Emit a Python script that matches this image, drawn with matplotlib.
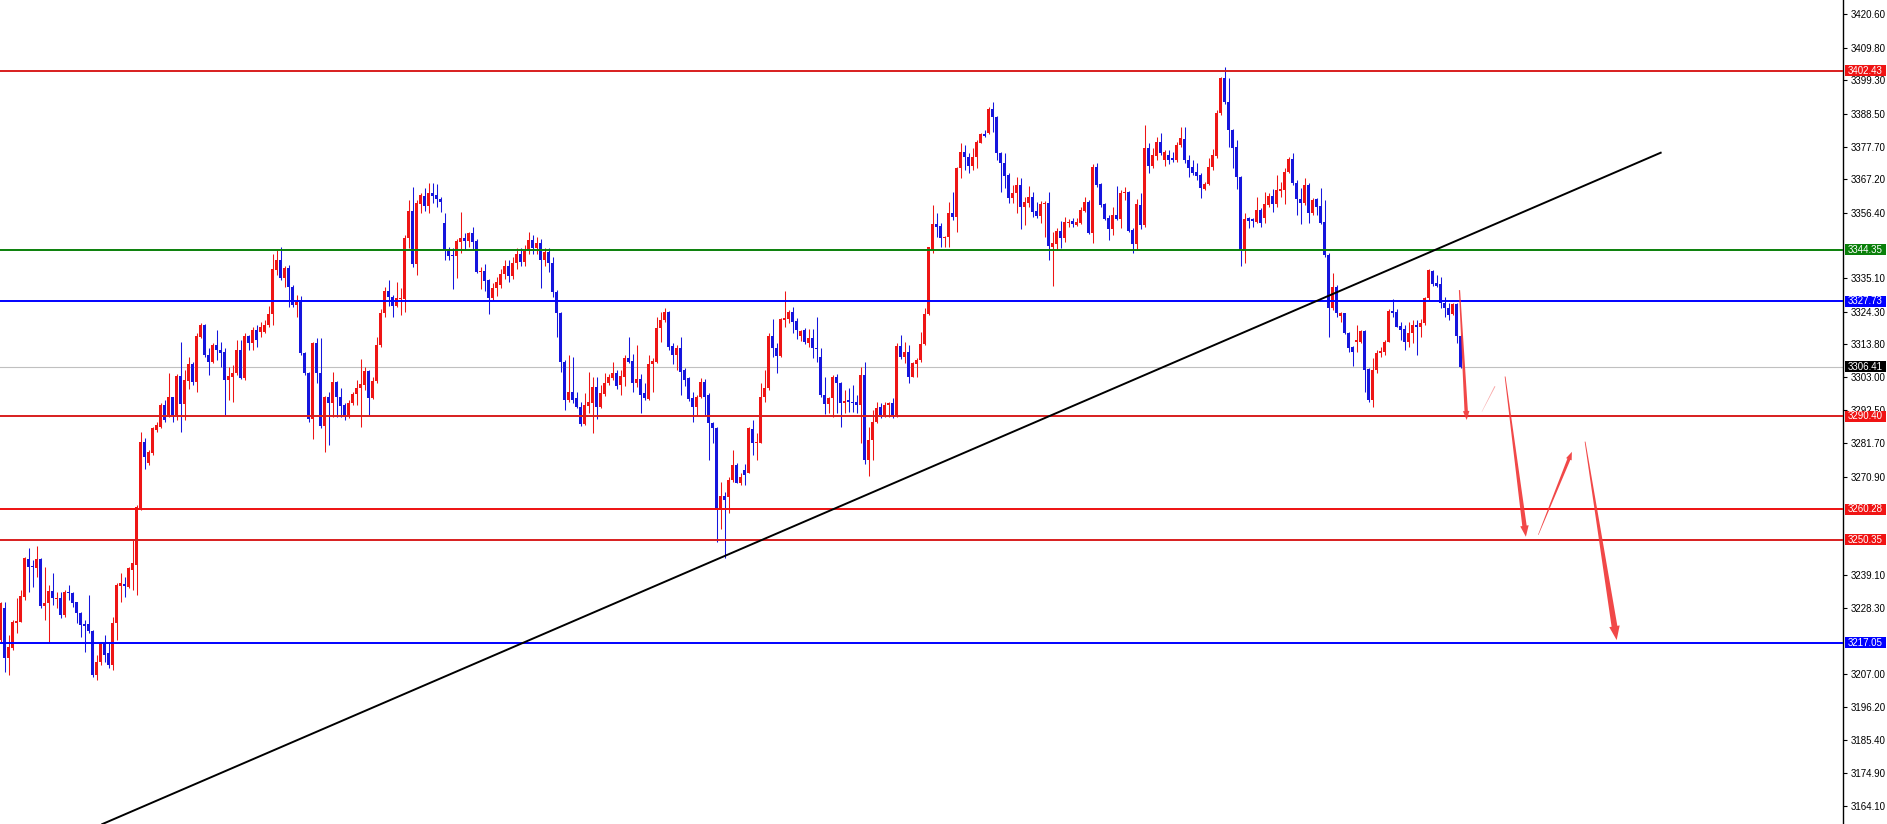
import matplotlib
matplotlib.use("Agg")
import matplotlib.pyplot as plt
from matplotlib.patches import Polygon, Rectangle
import numpy as np

# hourly candles, left to right
opens = [
    3218.0, 3228.2, 3212.0, 3215.2, 3223.6, 3223.9, 3232.0, 3244.2, 3241.9, 3241.2,
    3244.1, 3229.0, 3229.8, 3233.8, 3231.3, 3231.7, 3226.1, 3233.5, 3233.3, 3230.1,
    3226.6, 3223.0, 3223.1, 3220.9, 3206.6, 3210.9, 3216.9, 3213.6, 3209.9, 3223.3,
    3235.5, 3236.1, 3235.2, 3240.6, 3242.2, 3260.6, 3282.2, 3275.2, 3278.4, 3286.0,
    3287.1, 3294.1, 3290.8, 3296.6, 3290.8, 3303.5, 3294.4, 3301.9, 3307.4, 3301.6,
    3316.2, 3320.0, 3310.3, 3308.1, 3313.5, 3311.9, 3311.4, 3302.2, 3303.2, 3304.3,
    3311.9, 3302.7, 3316.4, 3314.0, 3318.4, 3317.8, 3317.8, 3320.0, 3323.6, 3337.8,
    3341.0, 3335.1, 3338.3, 3332.4, 3326.5, 3327.5, 3310.8, 3304.6, 3289.4, 3314.3,
    3304.6, 3287.3, 3296.8, 3294.8, 3301.5, 3296.6, 3294.1, 3290.3, 3294.6, 3297.6,
    3299.7, 3300.6, 3305.1, 3296.2, 3301.8, 3313.5, 3324.0, 3331.0, 3329.2, 3326.1,
    3328.3, 3328.3, 3348.1, 3357.0, 3339.8, 3359.2, 3361.8, 3358.7, 3362.6, 3362.1,
    3360.9, 3353.1, 3344.3, 3342.7, 3342.3, 3347.0, 3348.1, 3347.3, 3349.9, 3347.3,
    3337.0, 3337.5, 3334.6, 3328.6, 3331.9, 3333.0, 3336.5, 3339.0, 3336.0, 3340.0,
    3343.0, 3340.5, 3344.0, 3347.5, 3345.0, 3346.5, 3341.0, 3343.5, 3340.0, 3330.8,
    3323.8, 3308.1, 3295.7, 3298.4, 3296.2, 3293.5, 3287.9, 3293.7, 3294.8, 3300.0,
    3293.3, 3297.6, 3301.1, 3302.7, 3304.3, 3300.6, 3303.3, 3309.2, 3308.3, 3301.3,
    3302.6, 3297.9, 3296.0, 3307.4, 3308.1, 3318.9, 3321.6, 3324.3, 3313.2, 3310.3,
    3312.4, 3305.4, 3302.7, 3296.2, 3293.3, 3296.6, 3301.6, 3297.3, 3288.4, 3286.5,
    3260.1, 3264.6, 3264.4, 3269.8, 3274.6, 3268.9, 3273.0, 3271.9, 3286.2, 3281.7,
    3281.9, 3296.6, 3299.5, 3316.4, 3312.4, 3309.9, 3321.6, 3321.8, 3324.3, 3321.4,
    3316.4, 3318.4, 3314.3, 3315.7, 3312.4, 3309.7, 3297.3, 3294.4, 3296.2, 3303.0,
    3301.3, 3294.6, 3295.7, 3295.1, 3295.1, 3294.1, 3303.8, 3276.2, 3282.7, 3288.7,
    3293.3, 3290.8, 3294.1, 3294.6, 3290.8, 3313.2, 3309.7, 3311.3, 3303.2, 3307.4,
    3308.6, 3313.8, 3323.6, 3344.3, 3352.7, 3352.1, 3348.1, 3348.6, 3356.2, 3355.1,
    3370.7, 3376.1, 3374.5, 3371.5, 3374.5, 3379.1, 3381.9, 3382.3, 3389.9, 3387.3,
    3375.6, 3372.6, 3368.6, 3361.0, 3362.6, 3365.3, 3358.3, 3359.6, 3361.3, 3357.0,
    3355.3, 3359.1, 3359.6, 3345.4, 3346.1, 3350.5, 3348.1, 3352.9, 3353.7, 3352.4,
    3352.9, 3357.0, 3359.9, 3349.7, 3371.1, 3365.7, 3359.2, 3354.5, 3351.0, 3355.6,
    3354.2, 3362.6, 3363.2, 3350.8, 3346.2, 3358.9, 3352.4, 3377.2, 3371.5, 3374.7,
    3379.4, 3373.4, 3375.1, 3374.2, 3373.6, 3378.3, 3380.2, 3373.6, 3371.1, 3369.7,
    3368.6, 3363.9, 3365.7, 3371.3, 3374.7, 3388.8, 3399.9, 3392.3, 3383.2, 3377.8,
    3368.0, 3344.3, 3354.5, 3354.2, 3353.5, 3357.2, 3354.5, 3358.9, 3361.9, 3359.2,
    3363.5, 3363.7, 3369.4, 3373.8, 3366.1, 3360.7, 3359.4, 3365.3, 3356.4, 3360.7,
    3358.5, 3353.5, 3342.7, 3325.4, 3332.4, 3322.9, 3323.8, 3317.5, 3312.8, 3314.6,
    3314.6, 3318.1, 3305.6, 3295.7, 3305.4, 3310.8, 3311.4, 3314.6, 3324.6, 3324.3,
    3319.6, 3318.6, 3314.6, 3317.3, 3320.0, 3319.4, 3320.5, 3328.6, 3337.6, 3333.7,
    3333.3, 3327.2, 3325.4, 3323.5, 3326.8, 3316.4,
]
highs = [
    3230.4, 3230.4, 3219.6, 3224.4, 3231.4, 3234.1, 3244.9, 3247.6, 3243.9, 3248.4,
    3244.4, 3241.7, 3235.8, 3239.5, 3233.6, 3233.6, 3234.1, 3235.8, 3233.6, 3230.4,
    3227.1, 3224.4, 3232.5, 3221.2, 3213.1, 3217.4, 3219.6, 3217.4, 3225.5, 3236.3,
    3239.5, 3238.5, 3241.7, 3250.3, 3261.7, 3285.4, 3283.3, 3279.5, 3287.1, 3288.7,
    3294.6, 3295.7, 3304.3, 3296.8, 3304.1, 3314.6, 3305.4, 3309.7, 3308.1, 3317.3,
    3320.8, 3320.3, 3312.4, 3314.1, 3318.4, 3314.6, 3312.4, 3306.5, 3307.0, 3315.1,
    3315.1, 3317.3, 3316.8, 3319.4, 3320.0, 3321.1, 3321.6, 3326.1, 3343.0, 3344.3,
    3345.2, 3339.1, 3339.4, 3333.0, 3329.7, 3329.4, 3311.4, 3304.9, 3314.6, 3315.7,
    3315.7, 3297.0, 3298.4, 3304.9, 3302.0, 3299.5, 3294.6, 3295.7, 3298.4, 3302.2,
    3308.9, 3306.3, 3305.4, 3303.0, 3316.2, 3325.1, 3332.2, 3334.6, 3329.7, 3334.0,
    3331.9, 3349.2, 3360.5, 3364.8, 3360.5, 3362.6, 3364.3, 3365.9, 3365.9, 3365.7,
    3361.6, 3356.4, 3345.2, 3344.8, 3347.7, 3356.5, 3349.9, 3350.2, 3351.6, 3347.7,
    3338.7, 3339.8, 3334.8, 3333.5, 3335.5, 3338.0, 3341.0, 3341.0, 3342.0, 3345.0,
    3345.0, 3346.0, 3350.0, 3349.0, 3348.5, 3348.0, 3345.0, 3345.0, 3342.0, 3331.3,
    3324.3, 3308.7, 3310.3, 3309.5, 3298.4, 3295.2, 3297.9, 3304.9, 3303.3, 3303.0,
    3300.6, 3304.3, 3304.1, 3308.1, 3305.4, 3305.4, 3310.3, 3316.0, 3310.6, 3313.5,
    3304.1, 3301.1, 3310.3, 3309.2, 3322.7, 3324.3, 3325.4, 3324.6, 3314.1, 3313.5,
    3316.2, 3305.9, 3303.3, 3298.4, 3297.3, 3302.7, 3302.4, 3297.9, 3288.7, 3287.1,
    3269.2, 3266.0, 3270.9, 3279.5, 3275.2, 3271.9, 3275.1, 3287.0, 3289.2, 3284.9,
    3301.1, 3305.4, 3317.3, 3321.8, 3314.0, 3322.1, 3331.1, 3324.9, 3325.7, 3322.1,
    3318.4, 3318.9, 3318.6, 3318.6, 3322.7, 3312.4, 3303.2, 3296.8, 3303.8, 3304.1,
    3301.6, 3298.9, 3299.5, 3300.5, 3297.3, 3306.5, 3308.1, 3287.0, 3292.5, 3295.1,
    3294.6, 3295.1, 3295.1, 3296.2, 3314.0, 3316.8, 3314.6, 3313.5, 3308.1, 3309.2,
    3317.8, 3325.4, 3345.4, 3358.9, 3356.2, 3352.9, 3348.8, 3359.9, 3363.2, 3371.3,
    3378.8, 3378.3, 3375.6, 3377.2, 3379.9, 3382.3, 3383.2, 3390.7, 3392.3, 3387.7,
    3376.1, 3375.8, 3369.3, 3365.3, 3367.8, 3367.5, 3361.6, 3365.0, 3363.2, 3359.9,
    3360.3, 3360.3, 3363.2, 3350.2, 3351.3, 3353.8, 3354.9, 3354.2, 3354.8, 3354.5,
    3358.3, 3361.3, 3360.5, 3372.1, 3372.4, 3366.1, 3359.4, 3355.6, 3358.3, 3365.0,
    3363.7, 3364.8, 3363.5, 3351.3, 3360.7, 3362.6, 3384.8, 3378.8, 3377.2, 3381.0,
    3382.3, 3376.7, 3376.7, 3376.1, 3379.4, 3384.2, 3384.2, 3375.1, 3373.6, 3372.4,
    3369.1, 3366.4, 3374.0, 3376.9, 3389.6, 3400.4, 3403.5, 3399.9, 3383.5, 3379.9,
    3368.3, 3356.2, 3354.9, 3354.5, 3361.3, 3357.8, 3363.2, 3362.6, 3363.9, 3368.6,
    3366.4, 3370.7, 3374.5, 3375.6, 3367.0, 3364.3, 3367.5, 3365.9, 3361.0, 3361.0,
    3364.3, 3360.5, 3343.2, 3336.7, 3333.0, 3324.3, 3324.0, 3317.8, 3313.2, 3320.0,
    3318.4, 3318.4, 3305.9, 3309.2, 3311.9, 3312.8, 3315.1, 3325.1, 3328.3, 3325.1,
    3321.1, 3320.0, 3321.1, 3321.6, 3321.6, 3321.8, 3329.2, 3338.0, 3337.8, 3336.2,
    3335.6, 3329.2, 3327.0, 3327.2, 3327.2, 3316.8,
]
lows = [
    3217.4, 3207.7, 3206.6, 3214.7, 3220.1, 3223.9, 3230.9, 3233.6, 3235.2, 3238.5,
    3228.2, 3224.4, 3217.4, 3229.3, 3228.2, 3225.0, 3225.5, 3230.9, 3228.7, 3223.3,
    3219.0, 3214.2, 3220.1, 3206.1, 3205.0, 3209.9, 3210.9, 3208.8, 3208.2, 3218.0,
    3230.4, 3232.0, 3234.7, 3234.1, 3232.5, 3260.1, 3273.5, 3274.6, 3277.9, 3285.4,
    3286.5, 3288.7, 3290.3, 3288.7, 3289.2, 3285.4, 3289.2, 3299.2, 3300.6, 3298.4,
    3315.7, 3309.7, 3303.8, 3307.6, 3308.6, 3306.5, 3290.8, 3295.7, 3295.2, 3303.8,
    3302.4, 3302.2, 3311.9, 3311.9, 3313.0, 3316.2, 3317.3, 3319.4, 3320.0, 3336.2,
    3334.6, 3332.4, 3325.9, 3325.9, 3322.7, 3310.3, 3303.8, 3288.7, 3282.9, 3301.1,
    3286.5, 3278.9, 3281.1, 3290.3, 3290.3, 3290.3, 3289.2, 3289.8, 3294.1, 3294.1,
    3286.9, 3298.9, 3290.8, 3295.9, 3301.1, 3313.0, 3322.7, 3326.1, 3322.5, 3325.9,
    3323.2, 3324.3, 3344.8, 3338.9, 3336.2, 3356.2, 3357.0, 3356.2, 3359.4, 3358.1,
    3356.7, 3341.0, 3341.0, 3331.5, 3335.1, 3343.2, 3344.3, 3345.4, 3344.3, 3336.7,
    3331.7, 3331.1, 3323.6, 3328.1, 3329.5, 3332.0, 3335.0, 3334.0, 3335.0, 3338.0,
    3339.0, 3339.0, 3343.0, 3343.0, 3343.0, 3331.9, 3339.0, 3337.0, 3329.0, 3316.2,
    3304.9, 3292.5, 3295.2, 3294.6, 3293.0, 3287.3, 3287.6, 3291.4, 3285.1, 3289.4,
    3293.0, 3297.0, 3300.6, 3302.2, 3299.2, 3297.3, 3300.2, 3307.6, 3298.4, 3300.0,
    3291.4, 3295.7, 3295.7, 3298.4, 3307.6, 3314.6, 3321.1, 3311.9, 3307.4, 3305.4,
    3297.3, 3300.2, 3295.5, 3288.7, 3290.8, 3296.2, 3290.5, 3276.3, 3281.7, 3249.8,
    3253.8, 3244.4, 3259.0, 3269.2, 3268.7, 3268.1, 3268.1, 3271.9, 3277.9, 3276.2,
    3281.7, 3295.1, 3298.9, 3309.7, 3304.5, 3309.7, 3319.2, 3320.5, 3317.3, 3315.3,
    3314.9, 3313.8, 3313.0, 3309.2, 3308.1, 3296.8, 3291.2, 3291.4, 3290.3, 3291.4,
    3287.0, 3291.4, 3291.9, 3291.9, 3291.4, 3281.7, 3275.1, 3271.1, 3276.2, 3288.1,
    3289.8, 3290.3, 3290.3, 3289.8, 3290.3, 3308.9, 3307.6, 3301.3, 3303.0, 3303.2,
    3308.1, 3313.5, 3323.2, 3343.2, 3348.6, 3345.2, 3345.2, 3345.4, 3354.0, 3350.2,
    3367.5, 3370.2, 3369.1, 3370.2, 3370.7, 3378.8, 3380.8, 3381.9, 3382.6, 3373.6,
    3363.2, 3364.3, 3359.6, 3359.4, 3356.2, 3351.0, 3352.4, 3358.3, 3355.1, 3354.5,
    3353.1, 3348.6, 3341.0, 3332.6, 3344.3, 3344.8, 3347.0, 3351.8, 3351.8, 3352.1,
    3352.7, 3356.7, 3349.5, 3346.4, 3364.8, 3358.3, 3354.0, 3347.5, 3349.1, 3354.0,
    3351.3, 3360.5, 3350.2, 3343.4, 3344.3, 3351.0, 3351.8, 3369.3, 3370.7, 3373.4,
    3375.1, 3371.5, 3372.1, 3372.9, 3372.9, 3377.5, 3372.6, 3368.0, 3368.6, 3367.0,
    3361.0, 3363.7, 3365.3, 3370.2, 3374.0, 3388.0, 3391.6, 3377.5, 3370.7, 3363.9,
    3339.1, 3340.0, 3351.3, 3351.8, 3352.9, 3351.6, 3352.9, 3358.3, 3356.7, 3358.3,
    3361.6, 3359.2, 3369.1, 3365.3, 3355.6, 3352.7, 3358.9, 3352.9, 3355.6, 3355.6,
    3352.7, 3342.1, 3316.2, 3324.8, 3322.7, 3321.1, 3317.1, 3311.4, 3306.7, 3311.4,
    3314.3, 3298.4, 3295.1, 3293.5, 3304.3, 3309.5, 3310.3, 3314.6, 3322.7, 3319.2,
    3315.1, 3311.9, 3312.9, 3314.0, 3310.3, 3316.2, 3320.0, 3328.1, 3332.6, 3332.4,
    3325.4, 3322.7, 3321.6, 3323.2, 3314.3, 3305.9,
]
closes = [
    3229.9, 3212.0, 3215.8, 3223.9, 3224.2, 3232.2, 3244.4, 3241.7, 3241.5, 3244.1,
    3229.0, 3229.8, 3233.8, 3231.4, 3231.7, 3226.1, 3233.6, 3233.1, 3229.8, 3226.6,
    3222.8, 3222.6, 3220.7, 3206.6, 3210.9, 3216.9, 3213.1, 3209.9, 3223.3, 3235.8,
    3236.3, 3235.4, 3241.2, 3242.8, 3261.1, 3282.2, 3277.3, 3279.0, 3286.5, 3287.6,
    3294.1, 3289.2, 3296.6, 3290.8, 3303.5, 3294.4, 3302.2, 3307.2, 3301.6, 3316.4,
    3320.0, 3310.3, 3308.1, 3313.5, 3311.9, 3311.0, 3302.2, 3303.5, 3304.5, 3311.9,
    3302.7, 3316.4, 3314.1, 3318.4, 3315.1, 3319.4, 3320.0, 3323.6, 3338.0, 3341.0,
    3335.1, 3338.3, 3332.2, 3326.5, 3327.5, 3311.0, 3304.6, 3289.4, 3314.3, 3304.6,
    3287.3, 3296.8, 3294.6, 3301.5, 3296.6, 3293.7, 3290.3, 3294.8, 3297.6, 3299.7,
    3300.8, 3305.1, 3296.2, 3301.8, 3313.5, 3324.0, 3331.0, 3329.0, 3326.1, 3328.6,
    3328.8, 3348.1, 3357.0, 3339.8, 3359.4, 3362.1, 3358.7, 3362.6, 3361.9, 3360.7,
    3359.9, 3344.3, 3342.3, 3342.3, 3347.2, 3348.1, 3347.3, 3349.9, 3347.0, 3337.0,
    3337.5, 3334.4, 3328.6, 3331.9, 3334.0, 3336.5, 3339.0, 3336.0, 3340.0, 3343.0,
    3340.5, 3344.0, 3347.5, 3345.0, 3346.5, 3341.0, 3343.5, 3340.0, 3330.8, 3323.8,
    3308.1, 3295.7, 3298.4, 3295.7, 3293.3, 3287.8, 3294.1, 3295.2, 3300.0, 3293.5,
    3297.9, 3301.1, 3303.3, 3304.3, 3300.2, 3303.5, 3309.2, 3308.1, 3301.3, 3302.6,
    3297.3, 3296.2, 3307.4, 3308.4, 3318.9, 3321.6, 3324.3, 3313.0, 3310.3, 3312.4,
    3304.9, 3302.2, 3295.9, 3293.3, 3296.8, 3301.6, 3296.8, 3288.4, 3286.5, 3260.1,
    3264.6, 3263.3, 3269.8, 3274.6, 3268.9, 3270.8, 3271.4, 3286.5, 3281.7, 3282.2,
    3296.8, 3299.5, 3316.4, 3312.4, 3309.9, 3321.8, 3322.4, 3324.3, 3321.1, 3318.4,
    3318.2, 3314.6, 3315.7, 3312.4, 3312.1, 3297.3, 3294.4, 3296.2, 3303.0, 3301.3,
    3294.6, 3295.5, 3295.1, 3294.6, 3294.1, 3303.8, 3276.2, 3282.7, 3288.7, 3293.0,
    3290.8, 3294.1, 3294.8, 3290.8, 3313.2, 3309.7, 3311.3, 3303.2, 3307.6, 3308.6,
    3313.8, 3323.6, 3345.2, 3352.7, 3351.9, 3348.1, 3348.6, 3356.2, 3355.1, 3370.7,
    3376.1, 3374.5, 3371.5, 3374.5, 3379.4, 3381.9, 3381.2, 3389.9, 3387.3, 3375.6,
    3372.6, 3368.3, 3361.0, 3362.6, 3365.3, 3358.3, 3359.9, 3361.3, 3356.7, 3355.3,
    3359.2, 3359.6, 3345.6, 3346.4, 3350.5, 3348.1, 3353.5, 3353.5, 3352.6, 3353.5,
    3357.2, 3359.9, 3349.7, 3371.1, 3365.3, 3358.9, 3354.2, 3351.0, 3355.6, 3354.2,
    3362.9, 3363.2, 3350.5, 3346.2, 3359.2, 3352.4, 3377.2, 3371.5, 3375.1, 3379.4,
    3375.8, 3376.1, 3373.4, 3373.6, 3378.3, 3380.5, 3373.6, 3370.7, 3369.3, 3368.3,
    3364.3, 3365.7, 3371.3, 3375.1, 3388.8, 3399.9, 3392.3, 3383.2, 3377.2, 3367.8,
    3344.3, 3354.2, 3353.8, 3353.8, 3357.2, 3352.9, 3359.2, 3361.9, 3359.2, 3363.7,
    3363.9, 3369.4, 3373.8, 3365.9, 3360.7, 3359.4, 3365.3, 3356.4, 3360.5, 3358.3,
    3353.1, 3342.7, 3325.4, 3332.4, 3323.8, 3323.8, 3317.3, 3312.4, 3311.4, 3315.1,
    3318.1, 3305.4, 3295.7, 3305.4, 3310.8, 3311.7, 3314.6, 3324.6, 3324.0, 3319.4,
    3318.4, 3314.6, 3317.5, 3320.0, 3319.2, 3320.7, 3328.6, 3337.8, 3333.3, 3332.6,
    3327.0, 3325.4, 3323.2, 3326.8, 3316.4, 3306.41,
]

# horizontal levels: price, line colour, label box colour
levels = [3402.43, 3344.35, 3327.73, 3290.40, 3260.28, 3250.35, 3217.05]
level_colors = ["#d81e1e", "#0a800a", "#0000ff", "#d81e1e", "#ee1111", "#d81e1e", "#0000ff"]
label_colors = ["#f01414", "#0a800a", "#0000ff", "#f01414", "#f01414", "#f01414", "#0000ff"]
last_price = 3306.41

# right-hand scale (the ones hidden behind price boxes are left out)
yticks = [3420.60, 3409.80, 3399.30, 3388.50, 3377.70, 3367.20, 3356.40,
          3335.10, 3324.30, 3313.80, 3303.00, 3292.50, 3281.70, 3270.90,
          3239.10, 3228.30, 3207.00, 3196.20, 3185.40, 3174.90, 3164.10]

# trend line (bar index, price)
trend_x = [25.4, 415.0]
trend_y = [3158.3, 3375.8]

# projected path arrows: start, end (bar index, price)
arrows = [
    ((364.7, 3331.3), (366.5, 3289.2)),
    ((370.3, 3291.9), (373.6, 3300.2)),
    ((376.1, 3303.3), (381.3, 3251.4)),
    ((384.4, 3252.0), (392.8, 3278.9)),
    ((396.1, 3282.2), (404.0, 3217.9)),
]

W, H = 1887, 824
YMIN, YMAX = 3158.33, 3425.28

fig = plt.figure(figsize=(W / 100, H / 100), dpi=100)
fig.patch.set_facecolor("white")
ax = fig.add_axes([0, 0, 1843 / W, 1])
ax.set_xlim(-0.17, 460.58)
ax.set_ylim(YMIN, YMAX)

o = np.array(opens)
h = np.array(highs)
l = np.array(lows)
c = np.array(closes)
x = np.arange(len(o))
up = c >= o
cols = np.where(up, "#ee1515", "#1515dd")

ax.vlines(x, l, h, colors=cols, linewidth=0.75, zorder=2)
bottom = np.minimum(o, c)
height = np.maximum(np.abs(c - o), 0.35)
ax.bar(x, height, bottom=bottom, width=0.72, color=cols, linewidth=0, zorder=3)

# current price line
ax.axhline(last_price, color="#c0c0c0", linewidth=0.8, zorder=1)
for lv, lc in zip(levels, level_colors):
    ax.axhline(lv, color=lc, linewidth=1.4, zorder=4)

ax.plot(trend_x, trend_y, color="black", linewidth=1.4, zorder=5)


def taper_arrow(start, end, w0, w1, hw, hl, color, alpha=0.9):
    p0 = ax.transData.transform(start)
    p1 = ax.transData.transform(end)
    d = (p1 - p0) / np.hypot(*(p1 - p0))
    n = np.array([-d[1], d[0]])
    b = p1 - d * hl
    pts = [p0 + n * w0 / 2, b + n * w1 / 2, b + n * hw / 2, p1,
           b - n * hw / 2, b - n * w1 / 2, p0 - n * w0 / 2]
    pts = ax.transData.inverted().transform(np.array(pts))
    ax.add_patch(Polygon(pts, closed=True, fc=color, ec="none", alpha=alpha, zorder=6))


# start width, end width, head width, head length (pixels)
arrow_style = [
    (1.2, 3.4, 6.5, 9),
    (0.3, 1.0, 1.0, 0.5),
    (0.8, 4.4, 8.5, 11),
    (0.5, 3.2, 6, 8),
    (0.8, 5.8, 10.5, 14),
]
for (s, e), (w0, w1, hw, hl) in zip(arrows, arrow_style):
    a = 0.45 if w1 <= 1 else 0.92
    taper_arrow(s, e, w0, w1, hw, hl, "#f03838", a)

for side in ["left", "top", "bottom"]:
    ax.spines[side].set_visible(False)
ax.spines["right"].set_linewidth(1)
ax.set_xticks([])
ax.yaxis.tick_right()
ax.set_yticks(yticks)
ax.set_yticklabels([f"{v:.2f}" for v in yticks])
ax.tick_params(axis="y", direction="out", length=3, width=0.8, pad=2.5,
               labelsize=7, labelcolor="black")
for t in ax.get_yticklabels():
    t.set_family("Liberation Sans")


def price_label(price, color):
    yf = (price - YMIN) / (YMAX - YMIN)
    fig.patches.append(Rectangle((1845 / W, yf - 5.5 / H), 41 / W, 11 / H,
                                 transform=fig.transFigure, fc=color, ec="none", zorder=5))
    fig.text(1865.5 / W, yf, f"{price:.2f}", ha="center", va="center",
             color="white", fontsize=7, family="Liberation Sans", zorder=6)


for lv, lc in zip(levels, label_colors):
    price_label(lv, lc)
price_label(last_price, "black")

fig.savefig("out.png", dpi=100, facecolor="white")
